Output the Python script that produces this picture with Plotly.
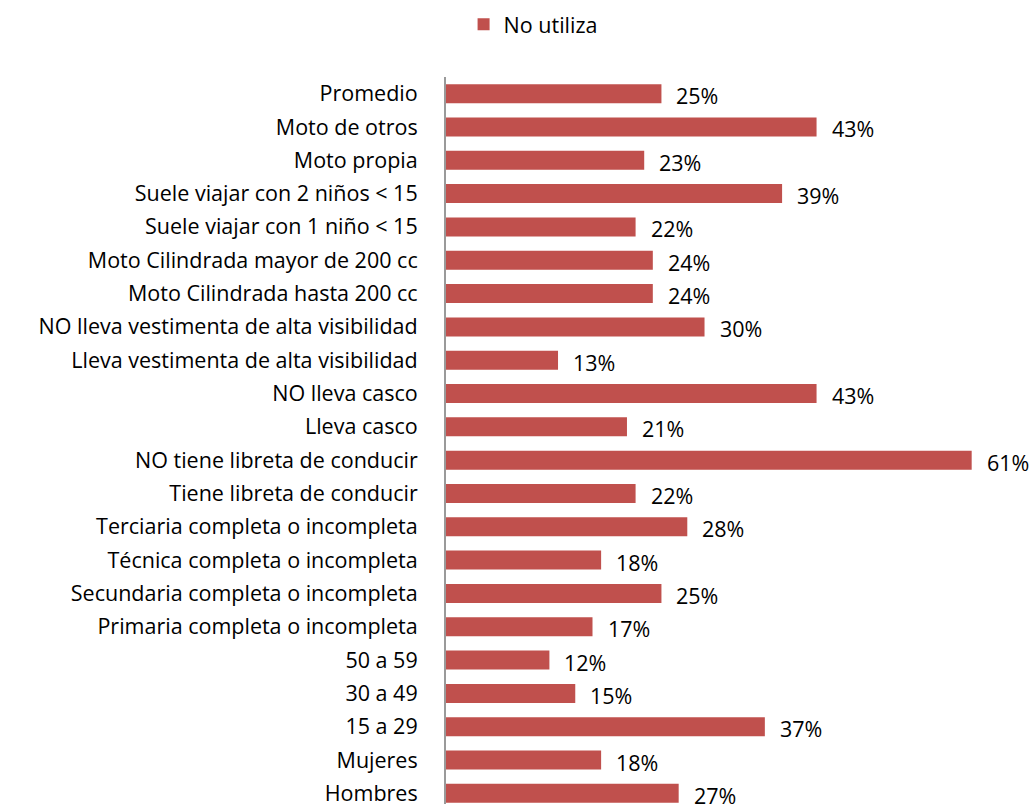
import plotly.graph_objects as go

categories = [
    "Hombres", "Mujeres", "15 a 29", "30 a 49", "50 a 59",
    "Primaria completa o incompleta", "Secundaria completa o incompleta",
    "Técnica completa o incompleta", "Terciaria completa o incompleta",
    "Tiene libreta de conducir", "NO tiene libreta de conducir",
    "Lleva casco", "NO lleva casco",
    "Lleva vestimenta de alta visibilidad", "NO lleva vestimenta de alta visibilidad",
    "Moto Cilindrada hasta 200 cc", "Moto Cilindrada mayor de 200 cc",
    "Suele viajar con 1 niño < 15", "Suele viajar con 2 niños < 15",
    "Moto propia", "Moto de otros", "Promedio",
]
no_utiliza = [27, 18, 37, 15, 12, 17, 25, 18, 28, 22, 61, 21, 43, 13, 30, 24, 24, 22, 39, 23, 43, 25]
value_labels = [f"{v}%" for v in no_utiliza]

FONT = "Open Sans"
FS = 21.5
BAR_COLOR = "#C0504D"

fig = go.Figure()
fig.add_trace(go.Bar(
    y=categories, x=no_utiliza, orientation="h", name="No utiliza",
    marker=dict(color=BAR_COLOR, line=dict(width=0)),
))

for cat, v, lab in zip(categories, no_utiliza, value_labels):
    fig.add_annotation(x=v, y=cat, text=lab, showarrow=False, xanchor="left",
                       xshift=13, yshift=-2, font=dict(family=FONT, size=FS, color="#000000"))

fig.update_layout(
    width=1035, height=807,
    margin=dict(l=446, r=3, t=77, b=0, pad=0),
    plot_bgcolor="white", paper_bgcolor="white",
    bargap=0.43,
    font=dict(family=FONT, size=FS, color="#000000"),
    showlegend=True,
    legend=dict(orientation="h", x=0.03, xanchor="left", y=1.0726, yanchor="middle",
                font=dict(family=FONT, size=FS, color="#000000"), itemsizing="constant"),
    xaxis=dict(range=[0, 68], visible=False, showgrid=False, zeroline=False),
    yaxis=dict(type="category", categoryorder="array", categoryarray=categories,
               range=[-0.32, 21.5], showline=True, linecolor="#9A9A9A", linewidth=2,
               showgrid=False, zeroline=False, ticks="", ticklabelstandoff=22,
               tickfont=dict(family=FONT, size=FS, color="#000000")),
)

fig.write_html(
    "out.html",
    config={"displayModeBar": False},
    post_script="document.body.style.margin='0';document.body.style.overflow='hidden';",
)
